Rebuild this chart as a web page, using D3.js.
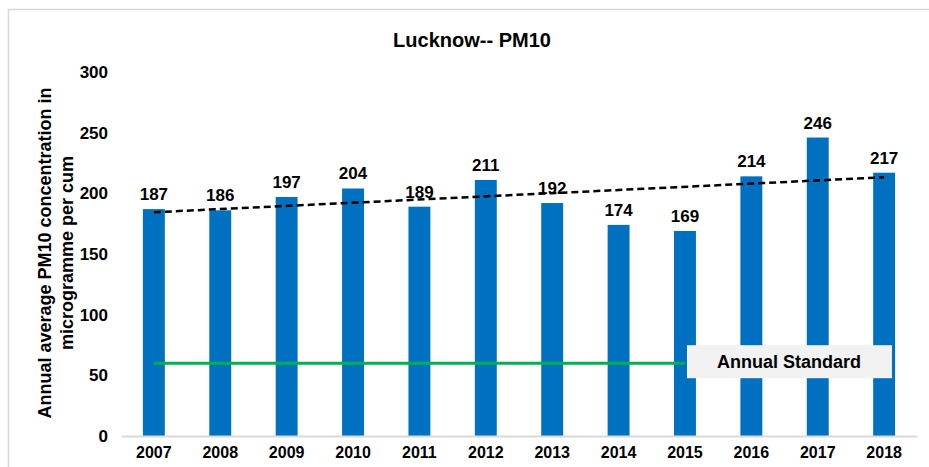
<!DOCTYPE html>
<meta charset="utf-8">
<style>
html, body { margin: 0; overflow: hidden; background: #fff; }
text { font-family: Arial, "Liberation Sans", sans-serif; font-weight: bold; fill: #000; }
</style>
<body>
<script src="https://d3js.org/d3.v7.min.js"></script>
<script>

var width = 929,
  height = 467;

// data
var years = ["2007", "2008", "2009", "2010", "2011", "2012", "2013", "2014", "2015", "2016", "2017", "2018"];
var pm10 = [187, 186, 197, 204, 189, 211, 192, 174, 169, 214, 246, 217];
var yTicks = [0, 50, 100, 150, 200, 250, 300];
var standard = 60;
var standardEndYear = "2015";

var svg = d3.select("body").append("svg")
  .attr("width", width)
  .attr("height", height);

// chart frame
svg.append("rect")
  .attr("x", 8.5).attr("y", 9.5)
  .attr("width", 940).attr("height", 480)
  .attr("fill", "none")
  .attr("stroke", "#d9d9d9")
  .attr("stroke-width", 1.5);

var x = d3.scaleBand()
  .domain(years)
  .range([121, 917])
  .paddingInner(0.67)
  .paddingOuter(0.33);

var y = d3.scaleLinear()
  .domain([0, 300])
  .range([436, 72]);

// title
svg.append("text")
  .attr("x", 472).attr("y", 47)
  .attr("text-anchor", "middle")
  .attr("font-size", "20px")
  .text("Lucknow-- PM10");

// y axis labels
var yAxis = svg.append("g")
  .attr("transform", "translate(108,0)")
  .call(d3.axisLeft(y).tickValues(yTicks).tickSize(0).tickPadding(0));
yAxis.select(".domain").remove();
yAxis.selectAll("text")
  .attr("font-size", "17px")
  .attr("font-family", "Arial, 'Liberation Sans', sans-serif")
  .attr("font-weight", "bold")
  .attr("fill", "#000");

// y axis title
var yt = svg.append("text")
  .attr("transform", "translate(51,253) rotate(-90)")
  .attr("text-anchor", "middle")
  .attr("font-size", "18px");
yt.append("tspan").attr("x", 0).attr("dy", 0).text("Annual average PM10 concentration in");
yt.append("tspan").attr("x", 0).attr("dy", 22).text("microgramme per cum");

// bars
svg.selectAll(".bar")
  .data(years)
  .enter().append("rect")
  .attr("class", "bar")
  .attr("x", function(d) { return x(d); })
  .attr("y", function(d, i) { return y(pm10[i]); })
  .attr("width", x.bandwidth())
  .attr("height", function(d, i) { return y(0) - y(pm10[i]); })
  .attr("fill", "#0070c0");

// x axis
var xAxis = svg.append("g")
  .attr("transform", "translate(0," + y(0) + ")")
  .call(d3.axisBottom(x).tickSize(0).tickPadding(11));
xAxis.select(".domain")
  .attr("stroke", "#d9d9d9")
  .attr("stroke-width", 2);
xAxis.selectAll("text")
  .attr("font-size", "16px")
  .attr("font-family", "Arial, 'Liberation Sans', sans-serif")
  .attr("font-weight", "bold")
  .attr("fill", "#000");

// value labels
svg.selectAll(".val")
  .data(years)
  .enter().append("text")
  .attr("class", "val")
  .attr("x", function(d) { return x(d) + x.bandwidth() / 2; })
  .attr("y", function(d, i) { return y(pm10[i]) - 9; })
  .attr("text-anchor", "middle")
  .attr("font-size", "17px")
  .text(function(d, i) { return pm10[i]; });

// linear trend line (least squares on the values)
var n = pm10.length,
  mx = d3.mean(pm10, function(d, i) { return i; }),
  my = d3.mean(pm10),
  sxy = d3.sum(pm10, function(d, i) { return (i - mx) * (d - my); }),
  sxx = d3.sum(pm10, function(d, i) { return (i - mx) * (i - mx); }),
  slope = sxy / sxx,
  icpt = my - slope * mx;

svg.append("line")
  .attr("x1", x(years[0]) + x.bandwidth() / 2)
  .attr("x2", x(years[n - 1]) + x.bandwidth() / 2)
  .attr("y1", y(icpt))
  .attr("y2", y(icpt + slope * (n - 1)))
  .attr("stroke", "#000")
  .attr("stroke-width", 2.5)
  .attr("stroke-dasharray", "7,4");

// annual standard
var stdX0 = x(years[0]) + x.bandwidth() / 2,
  stdX1 = x(standardEndYear) + x.bandwidth() / 2;

svg.append("line")
  .attr("x1", stdX0).attr("x2", stdX1)
  .attr("y1", y(standard)).attr("y2", y(standard))
  .attr("stroke", "#00b050")
  .attr("stroke-width", 3);

svg.append("rect")
  .attr("x", stdX1 + 2).attr("y", y(standard) - 18)
  .attr("width", 205).attr("height", 33)
  .attr("fill", "#f2f2f2");

svg.append("text")
  .attr("x", stdX1 + 104).attr("y", y(standard) + 5)
  .attr("text-anchor", "middle")
  .attr("font-size", "18px")
  .text("Annual Standard");

</script>
</body>
